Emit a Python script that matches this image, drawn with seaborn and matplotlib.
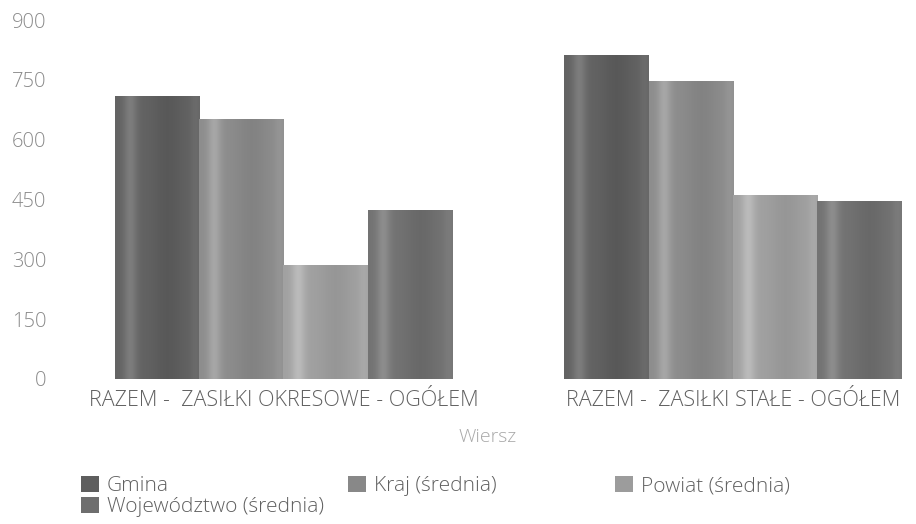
import numpy as np
import pandas as pd
import matplotlib
matplotlib.use("Agg")
import matplotlib.pyplot as plt
import seaborn as sns

# data
categories = ["RAZEM -  ZASIŁKI OKRESOWE - OGÓŁEM", "RAZEM -  ZASIŁKI STAŁE - OGÓŁEM"]
series = ["Gmina", "Kraj (średnia)", "Powiat (średnia)", "Województwo (średnia)"]
gmina = [710, 812]
kraj = [652, 746]
powiat = [287, 462]
wojewodztwo = [423, 445]
base_colors = ["#5e5e5e", "#888888", "#9c9c9c", "#6e6e6e"]

df = pd.DataFrame({
    "Wiersz": categories * 4,
    "Seria": np.repeat(series, 2),
    "Wartosc": gmina + kraj + powiat + wojewodztwo,
})

sns.set_style("white")
plt.rcParams["font.family"] = ["Open Sans", "DejaVu Sans"]

W, H = 916, 524
fig = plt.figure(figsize=(W / 100, H / 100), dpi=100)
ax = fig.add_axes([60 / W, 1 - 379 / H, 856 / W, (379 - 20) / H])

sns.barplot(data=df, x="Wiersz", y="Wartosc", hue="Seria", hue_order=series,
            palette=base_colors, width=0.75, ax=ax, legend=False, linewidth=0,
            saturation=1)

# soft cylinder shading on each bar
t = np.linspace(0, 1, 200)
profile = (0.02 + 0.10 * np.exp(-((t - 0.18) / 0.08) ** 2)
           - 0.04 * np.exp(-((t - 0.62) / 0.18) ** 2)
           + 0.03 * np.exp(-((t - 0.95) / 0.06) ** 2))
for patch in ax.patches:
    x0, y0 = patch.get_x(), patch.get_y()
    w, h = patch.get_width(), patch.get_height()
    rgb = np.array(matplotlib.colors.to_rgb(patch.get_facecolor()))
    shade = np.clip(rgb[None, :] + profile[:, None], 0, 1)
    img = ax.imshow(shade[None, :, :], extent=[x0, x0 + w, y0, y0 + h],
                    aspect="auto", zorder=patch.get_zorder() + 0.1)
    img.set_clip_path(patch)

ax.set_xlim(-0.497, 1.407)
ax.set_ylim(0, 900)
ax.set_yticks([0, 150, 300, 450, 600, 750, 900])
sns.despine(ax=ax, left=True, bottom=True)
ax.tick_params(axis="y", length=0, pad=10, labelsize=14.5, labelcolor="#8a8a8a")
ax.tick_params(axis="x", length=0, pad=8, labelsize=15.5, labelcolor="#606060")
for lab in ax.get_yticklabels() + ax.get_xticklabels():
    lab.set_fontweight("light")
ax.set_ylabel("")
ax.set_xlabel("Wiersz", fontsize=14, color="#a8a8a8", fontweight="light", labelpad=12)

# legend entries placed like the reference: three columns, two rows
slots = [(81, 486), (348, 486), (615, 486), (81, 507)]
for name, color, (px, py) in zip(series, base_colors, slots):
    handle = matplotlib.patches.Patch(facecolor=color, edgecolor="none")
    leg = fig.legend([handle], [name], loc="center left", bbox_to_anchor=(px / W, 1 - py / H),
                     frameon=False, fontsize=15, handlelength=0.85, handleheight=0.85,
                     handletextpad=0.4, borderpad=0, borderaxespad=0)
    for txt in leg.get_texts():
        txt.set_color("#606060")
        txt.set_fontweight("light")

fig.savefig("out.png", dpi=100)
